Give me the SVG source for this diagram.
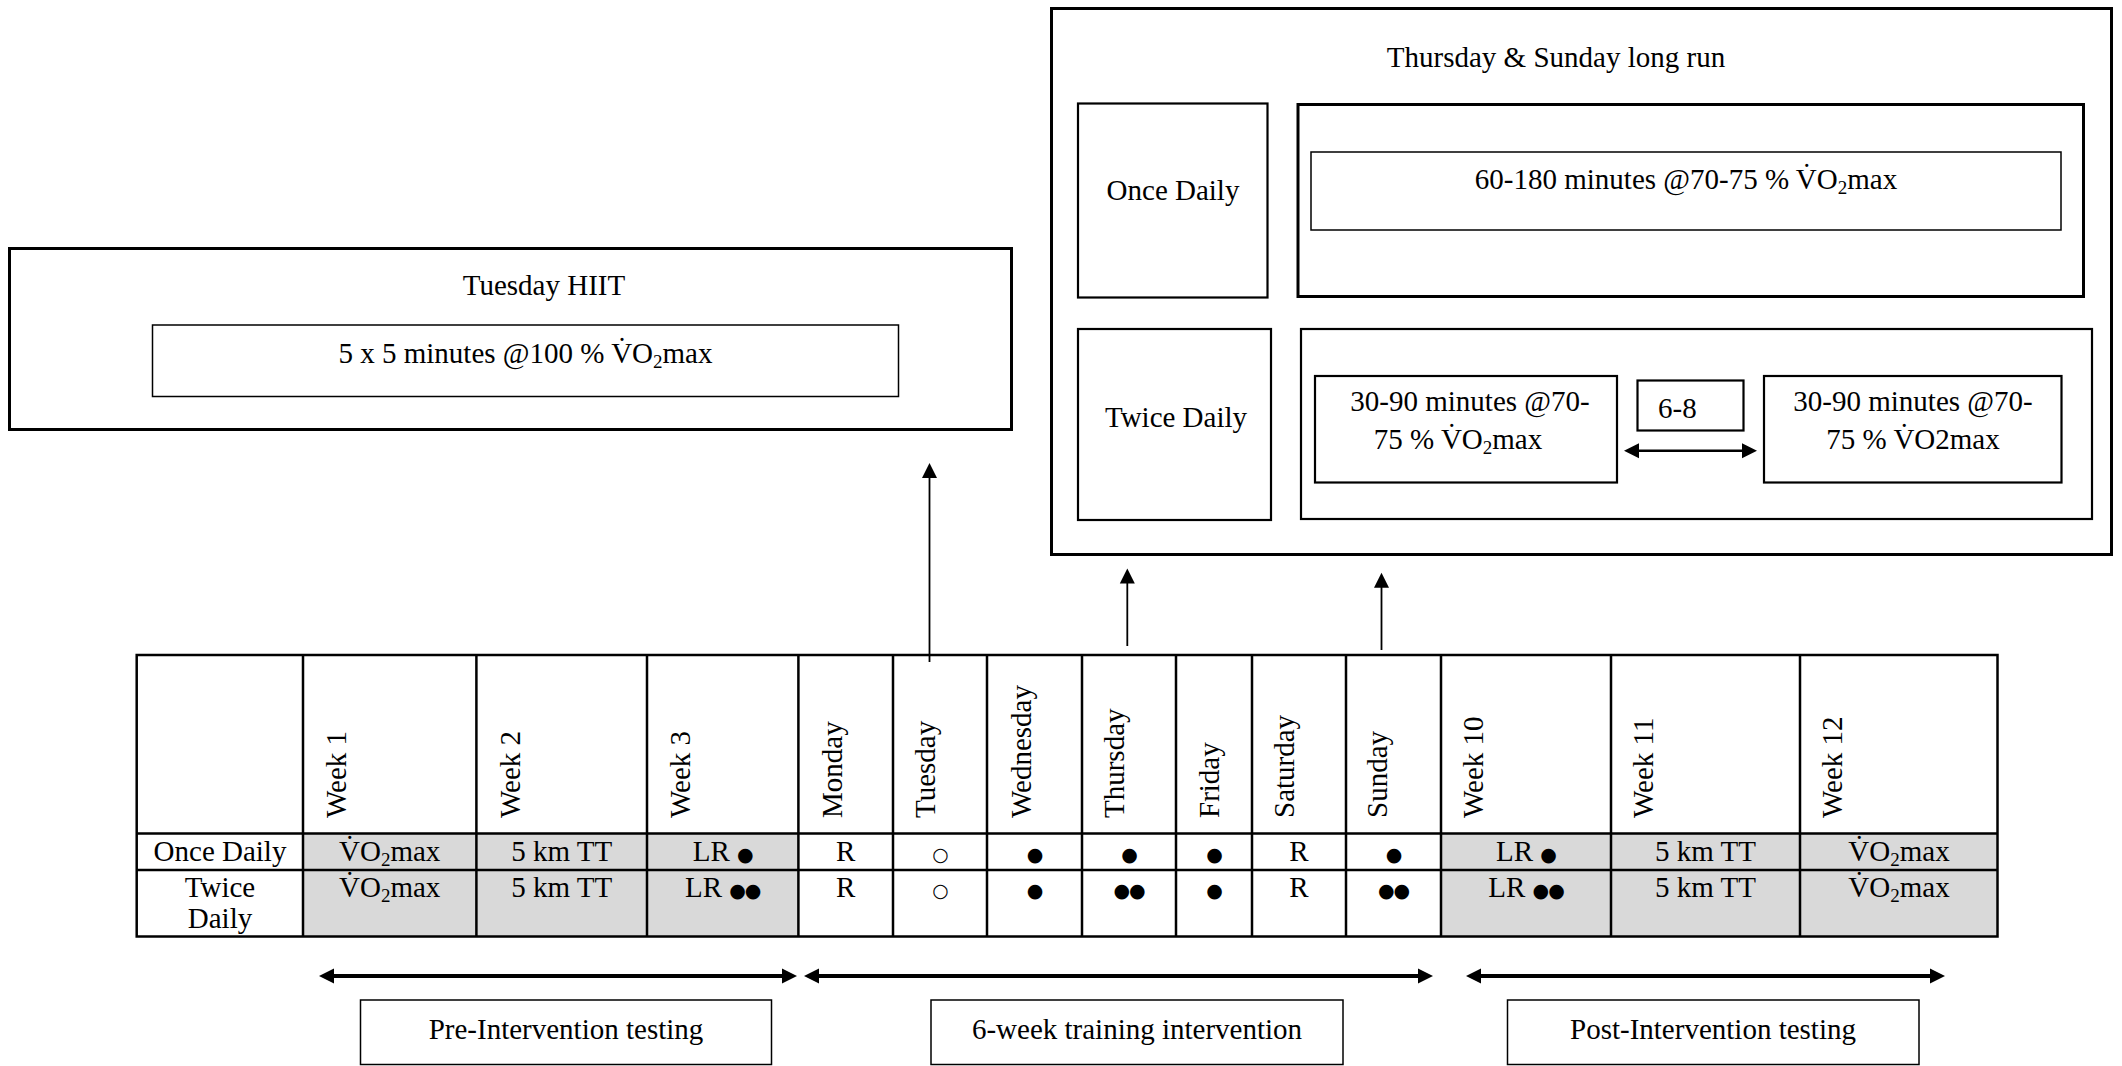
<svg xmlns="http://www.w3.org/2000/svg" width="2122" height="1066" viewBox="0 0 2122 1066">
<style>
text { font-family: "Liberation Serif", "Times New Roman", serif; font-size: 29px; fill: #000; }
.c { text-anchor: middle; }
.box { fill: #fff; stroke: #000; }
.thick { stroke-width: 3; }
.mid { stroke-width: 2.2; }
.thin { stroke-width: 1.5; }
.grid { stroke: #000; stroke-width: 2.5; fill: none; }
.gray { fill: #d9d9d9; stroke: none; }
.dot { font-family: "DejaVu Sans", sans-serif; font-size: 19px; letter-spacing: -1px; }
.sub { font-size: 19px; }
.up { stroke: #000; stroke-width: 1.8; fill: none; }
.dbl { stroke: #000; stroke-width: 4; fill: none; }
.dbl2 { stroke: #000; stroke-width: 2.5; fill: none; }
</style>
<defs>
<marker id="ah" markerUnits="userSpaceOnUse" markerWidth="16" markerHeight="16" viewBox="0 0 16 16" refX="5" refY="8" orient="auto-start-reverse">
<path d="M0,0.5 L15,8 L0,15.5 z" fill="#000"/>
</marker>
</defs>
<rect width="2122" height="1066" fill="#fff"/>

<!-- Tuesday HIIT -->
<g id="hiit">
<rect class="box thick" x="9.5" y="248.5" width="1002" height="181"/>
<text class="c" x="544" y="295">Tuesday HIIT</text>
<rect class="box thin" x="152.5" y="325" width="746" height="71.5"/>
<text class="c" x="525.5" y="363">5 x 5 minutes @100 % V&#x307;O<tspan class="sub" dy="5">2</tspan><tspan dy="-5">max</tspan></text>
</g>

<!-- Thursday & Sunday long run -->
<g id="longrun">
<rect class="box thick" x="1051.5" y="8.5" width="1060" height="546"/>
<text class="c" x="1556" y="67">Thursday &amp; Sunday long run</text>
</g>
<g id="once-label">
<rect class="box mid" x="1078" y="103.5" width="189.5" height="194"/>
<text class="c" x="1173" y="200">Once Daily</text>
</g>
<g id="once-plan">
<rect class="box thick" x="1298" y="104.5" width="785.5" height="192"/>
<rect class="box thin" x="1311" y="152" width="750" height="78"/>
<text class="c" x="1686" y="189">60-180 minutes @70-75 % V&#x307;O<tspan class="sub" dy="5">2</tspan><tspan dy="-5">max</tspan></text>
</g>
<g id="twice-label">
<rect class="box mid" x="1078" y="329" width="193" height="191"/>
<text class="c" x="1176" y="427">Twice Daily</text>
</g>
<g id="twice-plan">
<rect class="box mid" x="1301" y="329" width="791" height="190"/>
</g>
<g id="session1">
<rect class="box mid" x="1315" y="376" width="302" height="106.5"/>
<text class="c" x="1470" y="411">30-90 minutes @70-</text>
<text class="c" x="1458" y="449">75 % V&#x307;O<tspan class="sub" dy="5">2</tspan><tspan dy="-5">max</tspan></text>
</g>
<g id="gap">
<rect class="box mid" x="1637.5" y="380.5" width="106" height="50"/>
<text x="1658" y="418">6-8</text>
</g>
<g id="session2">
<rect class="box mid" x="1764" y="376" width="297.5" height="106.5"/>
<text class="c" x="1913" y="411">30-90 minutes @70-</text>
<text class="c" x="1913" y="449">75 % V&#x307;O2max</text>
</g>

<!-- Table -->
<g id="table">
<rect class="gray" x="303" y="833.6" width="495.4" height="102.9"/>
<rect class="gray" x="1441" y="833.6" width="556.5" height="102.9"/>
<rect class="grid" x="136.7" y="655" width="1860.8" height="281.5"/>
<path class="grid" d="M136.7,833.6 H1997.5 M136.7,870 H1997.5 M303,655 V936.5 M476.4,655 V936.5 M647,655 V936.5 M798.4,655 V936.5 M893,655 V936.5 M987,655 V936.5 M1082,655 V936.5 M1176,655 V936.5 M1252,655 V936.5 M1346,655 V936.5 M1441,655 V936.5 M1611,655 V936.5 M1800,655 V936.5"/>
<g id="headers">
<text transform="rotate(-90 346 818)" x="346" y="818">Week 1</text>
<text transform="rotate(-90 520 818)" x="520" y="818">Week 2</text>
<text transform="rotate(-90 690 818)" x="690" y="818">Week 3</text>
<text transform="rotate(-90 842 818)" x="842" y="818">Monday</text>
<text transform="rotate(-90 935 818)" x="935" y="818">Tuesday</text>
<text transform="rotate(-90 1031 818)" x="1031" y="818">Wednesday</text>
<text transform="rotate(-90 1124 818)" x="1124" y="818">Thursday</text>
<text transform="rotate(-90 1219 818)" x="1219" y="818">Friday</text>
<text transform="rotate(-90 1294 818)" x="1294" y="818">Saturday</text>
<text transform="rotate(-90 1387 818)" x="1387" y="818">Sunday</text>
<text transform="rotate(-90 1483 818)" x="1483" y="818">Week 10</text>
<text transform="rotate(-90 1653 818)" x="1653" y="818">Week 11</text>
<text transform="rotate(-90 1842 818)" x="1842" y="818">Week 12</text>
</g>
<g id="row-once">
<text class="c" x="220" y="861">Once Daily</text>
<text class="c" x="389.7" y="861">V&#x307;O<tspan class="sub" dy="5">2</tspan><tspan dy="-5">max</tspan></text>
<text class="c" x="561.7" y="861">5 km TT</text>
<text class="c" x="722.7" y="861">LR <tspan class="dot">●</tspan></text>
<text class="c" x="845.7" y="861">R</text>
<text class="c dot" x="940" y="861">○</text>
<text class="c dot" x="1034.5" y="861">●</text>
<text class="c dot" x="1129" y="861">●</text>
<text class="c dot" x="1214" y="861">●</text>
<text class="c" x="1299" y="861">R</text>
<text class="c dot" x="1393.5" y="861">●</text>
<text class="c" x="1526" y="861">LR <tspan class="dot">●</tspan></text>
<text class="c" x="1705.5" y="861">5 km TT</text>
<text class="c" x="1899" y="861">V&#x307;O<tspan class="sub" dy="5">2</tspan><tspan dy="-5">max</tspan></text>
</g>
<g id="row-twice">
<text class="c" x="220" y="897">Twice</text>
<text class="c" x="220" y="928">Daily</text>
<text class="c" x="389.7" y="897">V&#x307;O<tspan class="sub" dy="5">2</tspan><tspan dy="-5">max</tspan></text>
<text class="c" x="561.7" y="897">5 km TT</text>
<text class="c" x="722.7" y="897">LR <tspan class="dot">●●</tspan></text>
<text class="c" x="845.7" y="897">R</text>
<text class="c dot" x="940" y="897">○</text>
<text class="c dot" x="1034.5" y="897">●</text>
<text class="c dot" x="1129" y="897">●●</text>
<text class="c dot" x="1214" y="897">●</text>
<text class="c" x="1299" y="897">R</text>
<text class="c dot" x="1393.5" y="897">●●</text>
<text class="c" x="1526" y="897">LR <tspan class="dot">●●</tspan></text>
<text class="c" x="1705.5" y="897">5 km TT</text>
<text class="c" x="1899" y="897">V&#x307;O<tspan class="sub" dy="5">2</tspan><tspan dy="-5">max</tspan></text>
</g>
</g>

<!-- Phase labels -->
<g id="pre">
<rect class="box thin" x="360.5" y="1000" width="411" height="64.5"/>
<text class="c" x="566" y="1039">Pre-Intervention testing</text>
</g>
<g id="training">
<rect class="box thin" x="931" y="1000" width="412" height="64.5"/>
<text class="c" x="1137" y="1039">6-week training intervention</text>
</g>
<g id="post">
<rect class="box thin" x="1507.5" y="1000" width="411.5" height="64.5"/>
<text class="c" x="1713" y="1039">Post-Intervention testing</text>
</g>

<!-- Connectors -->
<g id="connectors">
<line class="up" x1="929.5" y1="662" x2="929.5" y2="473" marker-end="url(#ah)"/>
<line class="up" x1="1127.3" y1="646" x2="1127.3" y2="578.5" marker-end="url(#ah)"/>
<line class="up" x1="1381.5" y1="650" x2="1381.5" y2="582.7" marker-end="url(#ah)"/>
<line class="dbl" x1="329" y1="976" x2="787" y2="976" marker-start="url(#ah)" marker-end="url(#ah)"/>
<line class="dbl" x1="814" y1="976" x2="1423" y2="976" marker-start="url(#ah)" marker-end="url(#ah)"/>
<line class="dbl" x1="1476" y1="976" x2="1935" y2="976" marker-start="url(#ah)" marker-end="url(#ah)"/>
<line class="dbl2" x1="1634" y1="450.7" x2="1747" y2="450.7" marker-start="url(#ah)" marker-end="url(#ah)"/>
</g>
</svg>
